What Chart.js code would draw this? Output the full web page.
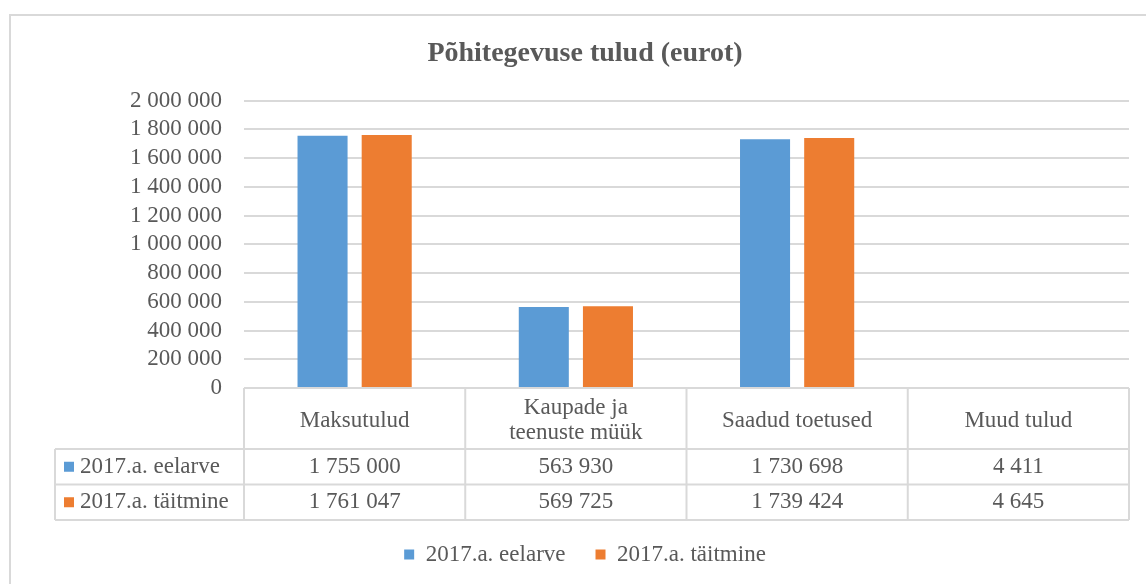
<!DOCTYPE html>
<html lang="et">

<head>
    <meta charset="UTF-8" />
    <title>Põhitegevuse tulud (eurot)</title>
    <script src="https://cdn.jsdelivr.net/npm/chart.js"></script>
    <style>
        body { margin: 0; background: #fff; overflow: hidden; }
        .frame { position: absolute; left: 9px; top: 14px; width: 1160px; height: 600px; border: 2px solid #d9d9d9; }
        .wrap { position: absolute; left: 0; top: 0; width: 1146px; height: 584px; }
    </style>
</head>

<body>
    <div class="frame"></div>
    <div class="wrap">
        <canvas id="incomeChart" width="1146" height="584"></canvas>
    </div>

    <script>
        // data
        const categories = ['Maksutulud', ['Kaupade ja', 'teenuste müük'], 'Saadud toetused', 'Muud tulud'];
        const seriesNames = ['2017.a. eelarve', '2017.a. täitmine'];
        const eelarve = [1755000, 563930, 1730698, 4411];
        const taitmine = [1761047, 569725, 1739424, 4645];
        const yMin = 0;
        const yMax = 2000000;
        const yStep = 200000;

        const colors = ['#5b9bd5', '#ed7d31'];
        const textColor = '#595959';
        const lineColor = '#d9d9d9';
        const serif = "'Liberation Serif', 'Times New Roman', serif";

        function fmt(v) {
            return String(v).replace(/\B(?=(\d{3})+(?!\d))/g, ' ');
        }

        // data table under the bars (Excel style)
        const dataTable = {
            id: 'dataTable',
            afterDraw(chart) {
                const ctx = chart.ctx;
                const area = chart.chartArea;
                const xs = chart.scales.x;
                const colW = (area.right - area.left) / categories.length;
                const headBottom = area.bottom + 61;
                const rowH = 35.5;
                const tableLeft = 55;
                const rows = [eelarve, taitmine];

                ctx.save();
                ctx.strokeStyle = lineColor;
                ctx.lineWidth = 2;
                ctx.beginPath();
                ctx.moveTo(area.left, area.bottom);
                ctx.lineTo(area.right, area.bottom);
                for (let r = 0; r <= rows.length; r++) {
                    const y = headBottom + r * rowH;
                    ctx.moveTo(tableLeft, y);
                    ctx.lineTo(area.right, y);
                }
                ctx.moveTo(tableLeft, headBottom);
                ctx.lineTo(tableLeft, headBottom + rows.length * rowH);
                for (let i = 0; i <= categories.length; i++) {
                    const x = area.left + i * colW;
                    ctx.moveTo(x, area.bottom);
                    ctx.lineTo(x, headBottom + rows.length * rowH);
                }
                ctx.stroke();

                ctx.font = '23px ' + serif;
                ctx.textBaseline = 'middle';
                rows.forEach((vals, r) => {
                    const yc = headBottom + r * rowH + rowH / 2;
                    ctx.fillStyle = colors[r];
                    ctx.fillRect(64, yc - 5, 10, 10);
                    ctx.fillStyle = textColor;
                    ctx.textAlign = 'left';
                    ctx.fillText(seriesNames[r], 80, yc);
                    ctx.textAlign = 'center';
                    vals.forEach((v, i) => {
                        ctx.fillText(fmt(v), xs.getPixelForValue(i), yc);
                    });
                });
                ctx.restore();
            }
        };

        Chart.defaults.font.family = serif;
        Chart.defaults.color = textColor;

        new Chart(document.getElementById('incomeChart'), {
            type: 'bar',
            data: {
                labels: categories,
                datasets: [
                    { label: seriesNames[0], data: eelarve, backgroundColor: colors[0] },
                    { label: seriesNames[1], data: taitmine, backgroundColor: colors[1] }
                ]
            },
            options: {
                responsive: false,
                animation: false,
                devicePixelRatio: 1,
                categoryPercentage: 0.58,
                barPercentage: 0.78,
                layout: { padding: { left: 41, right: 17, top: 0, bottom: 8 } },
                plugins: {
                    title: {
                        display: true,
                        text: 'Põhitegevuse tulud (eurot)',
                        color: textColor,
                        font: { family: serif, size: 28, weight: 'bold' },
                        padding: { top: 37, bottom: 30 }
                    },
                    legend: {
                        position: 'bottom',
                        labels: {
                            boxWidth: 10,
                            boxHeight: 10,
                            padding: 30,
                            color: textColor,
                            font: { family: serif, size: 23 }
                        }
                    },
                    tooltip: { enabled: false }
                },
                scales: {
                    x: {
                        grid: { display: false },
                        border: { display: false },
                        ticks: {
                            font: { family: serif, size: 23, lineHeight: 1.1 },
                            color: textColor,
                            padding: 12,
                            maxRotation: 0,
                            autoSkip: false,
                            crossAlign: 'center'
                        },
                        afterFit(scale) { scale.height = 125; }
                    },
                    y: {
                        min: yMin,
                        max: yMax,
                        grid: { color: lineColor, lineWidth: 2, drawTicks: false },
                        border: { display: false },
                        ticks: {
                            stepSize: yStep,
                            autoSkip: false,
                            padding: 22,
                            color: textColor,
                            font: { family: serif, size: 23 },
                            callback: v => fmt(v)
                        },
                        afterFit(scale) { scale.width = 203; }
                    }
                }
            },
            plugins: [dataTable]
        });
    </script>
</body>

</html>
